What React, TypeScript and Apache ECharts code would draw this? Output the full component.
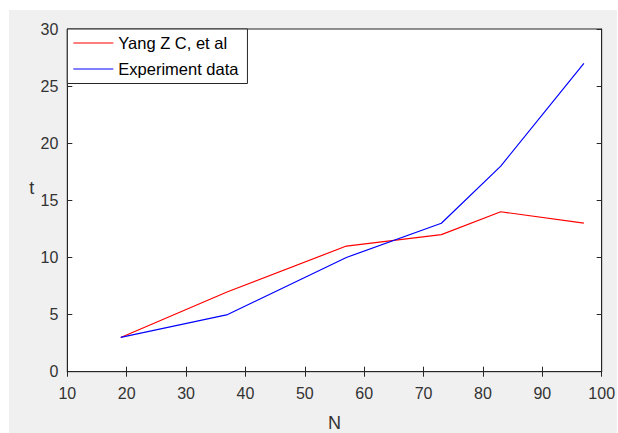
import React, { useEffect, useRef } from "react";
import * as echarts from "echarts";

const nValues = [19, 37, 57, 73, 83, 97];
const yangValues = [3, 7, 11, 12, 14, 13];
const experimentValues = [3, 5, 10, 13, 18, 27];
const seriesNames = ["Yang Z C, et al", "Experiment data"];
const seriesColors = ["#ff0000", "#0000ff"];

const FONT = "'Liberation Sans', Arial, Helvetica, sans-serif";
const AXIS_COLOR = "#262626";
const TEXT_COLOR = "#333333";

export default function App() {
  const ref = useRef<HTMLDivElement>(null);
  useEffect(() => {
    if (!ref.current) return;
    const chart = echarts.init(ref.current, undefined, { renderer: "svg" });
    const axisCommon = {
      type: "value" as const,
      axisLine: { show: true, lineStyle: { color: AXIS_COLOR, width: 1 } },
      axisTick: { show: true, inside: true, length: 5, lineStyle: { color: AXIS_COLOR } },
      splitLine: { show: false },
    };
    chart.setOption({
      animation: false,
      backgroundColor: "#f0f0f0",
      textStyle: { fontFamily: FONT },
      grid: {
        left: 58.3,
        top: 19,
        right: 15.3,
        bottom: 61.3,
        outerBoundsMode: "none",
        containLabel: false,
        show: true,
        backgroundColor: "#ffffff",
        borderColor: AXIS_COLOR,
        borderWidth: 1,
      },
      legend: {
        left: 58.3,
        top: 19,
        orient: "vertical",
        itemWidth: 40,
        itemHeight: 14,
        itemGap: 9,
        padding: [5.5, 9, 6, 5.4],
        backgroundColor: "#ffffff",
        borderColor: AXIS_COLOR,
        borderWidth: 1,
        borderRadius: 0,
        textStyle: { fontSize: 16.5, color: "#000", fontFamily: FONT },
        data: seriesNames.map((name, i) => ({
          name,
          itemStyle: { opacity: 0 },
          lineStyle: { color: seriesColors[i], width: 1.2, opacity: 1 },
        })),
      },
      xAxis: [
        {
          ...axisCommon,
          position: "bottom",
          min: 10,
          max: 100,
          interval: 10,
          axisLabel: { fontSize: 16, color: TEXT_COLOR, margin: 14, fontFamily: FONT },
          name: "N",
          nameLocation: "middle",
          nameGap: 42,
          nameTextStyle: { fontSize: 18, color: TEXT_COLOR, fontFamily: FONT },
        },
        {
          ...axisCommon,
          position: "top",
          min: 10,
          max: 100,
          interval: 10,
          axisLabel: { show: false },
        },
      ],
      yAxis: [
        {
          ...axisCommon,
          position: "left",
          min: 0,
          max: 30,
          interval: 5,
          axisLabel: { fontSize: 16, color: TEXT_COLOR, margin: 9, fontFamily: FONT, padding: [6, 0, 0, 0] },
          name: "t",
          nameLocation: "middle",
          nameRotate: 0,
          nameGap: 33,
          nameTextStyle: { fontSize: 18, color: TEXT_COLOR, fontFamily: FONT, verticalAlign: "bottom", lineHeight: 24 },
        },
        {
          ...axisCommon,
          position: "right",
          min: 0,
          max: 30,
          interval: 5,
          axisLabel: { show: false },
        },
      ],
      series: [
        {
          name: seriesNames[0],
          type: "line",
          data: nValues.map((n, i) => [n, yangValues[i]]),
          showSymbol: false,
          symbol: "none",
          lineStyle: { color: seriesColors[0], width: 1.2 },
          itemStyle: { color: seriesColors[0] },
        },
        {
          name: seriesNames[1],
          type: "line",
          data: nValues.map((n, i) => [n, experimentValues[i]]),
          showSymbol: false,
          symbol: "none",
          lineStyle: { color: seriesColors[1], width: 1.2 },
          itemStyle: { color: seriesColors[1] },
        },
      ],
    });
    return () => chart.dispose();
  }, []);
  return (
    <div style={{ position: "absolute", left: 0, top: 0, width: 618, height: 433, background: "#ffffff" }}>
      <div ref={ref} style={{ position: "absolute", left: 9, top: 10, width: 608, height: 423 }} />
    </div>
  );
}
